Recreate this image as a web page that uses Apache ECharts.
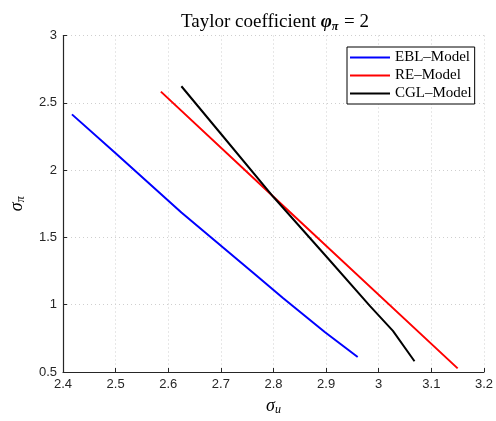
<!DOCTYPE html>
<html>
<head>
<meta charset="utf-8">
<script src="https://cdn.jsdelivr.net/npm/echarts@6/dist/echarts.min.js"></script>
<style>
html,body{margin:0;padding:0;background:#fff;}
#c{width:496px;height:421px;}
</style>
</head>
<body>
<div id="c"></div>
<script>
// Data
const seriesNames = ['EBL\u2013Model', 'RE\u2013Model', 'CGL\u2013Model'];
const eblData = [[2.417,2.414],[2.5,2.125],[2.625,1.685],[2.763,1.232],[2.818,1.05],[2.898,0.795],[2.96,0.612]];
const reData  = [[2.586,2.583],[2.8,1.802],[3.15,0.527]];
const cglData = [[2.625,2.623],[2.70,2.27],[2.80,1.80],[2.90,1.36],[2.984,0.988],[3.027,0.806],[3.068,0.58]];
const xTicks = [2.4, 3.2, 0.1];
const yTicks = [0.5, 3, 0.5];

const serif = 'Liberation Serif';
const sans = 'Liberation Sans';
const axisCol = '#262626';

const chart = echarts.init(document.getElementById('c'), null, {renderer:'canvas'});
chart.setOption({
  animation:false,
  backgroundColor:'#fff',
  title:{
    text:'{a|Taylor coefficient }{b|\u03c6}{c|\u03c0}{a| = 2}',
    left:270, top:7, textAlign:'center',
    textStyle:{
      rich:{
        a:{fontFamily:serif,fontSize:19,color:'#000',fontWeight:'normal'},
        b:{fontFamily:serif,fontSize:19,color:'#000',fontStyle:'italic'},
        c:{fontFamily:serif,fontSize:12,color:'#000',fontStyle:'italic',padding:[9,1,0,0]}
      }
    }
  },
  grid:{left:53,right:8.5,top:35.5,bottom:42.5,containLabel:false},
  legend:{
    orient:'vertical',
    left:347, top:47,
    backgroundColor:'#fff',
    borderColor:'#000', borderWidth:1,
    padding:[3,3,3,3],
    itemGap:3,
    itemWidth:40, itemHeight:2,
    icon:'rect',
    textStyle:{fontFamily:serif,fontSize:15,color:'#000',lineHeight:13},
    data:seriesNames.map(n=>({name:n}))
  },
  xAxis:{
    type:'value', min:xTicks[0], max:xTicks[1], interval:xTicks[2],
    name:'{s|\u03c3}{u|u}', nameLocation:'middle', nameGap:24,
    nameTextStyle:{rich:{
      s:{fontFamily:serif,fontSize:18,fontStyle:'italic',color:'#000'},
      u:{fontFamily:serif,fontSize:12,fontStyle:'italic',color:'#000',padding:[8,0,0,0]}
    }},
    axisLine:{show:true,lineStyle:{color:axisCol,width:1.2}},
    axisTick:{show:true,inside:true,length:4,lineStyle:{color:axisCol}},
    axisLabel:{fontFamily:sans,fontSize:13,color:axisCol,margin:6,
      formatter:v=>String(Math.round(v*10)/10)},
    splitLine:{show:true,lineStyle:{color:'#cfcfcf',type:[1,3],width:1}}
  },
  yAxis:{
    type:'value', min:yTicks[0], max:yTicks[1], interval:yTicks[2],
    name:'{s|\u03c3}{u|\u03c0}', nameLocation:'middle', nameGap:36, nameRotate:90,
    nameTextStyle:{rich:{
      s:{fontFamily:serif,fontSize:18,fontStyle:'italic',color:'#000'},
      u:{fontFamily:serif,fontSize:12,fontStyle:'italic',color:'#000',padding:[8,0,0,0]}
    }},
    axisLine:{show:true,lineStyle:{color:axisCol,width:1.2}},
    axisTick:{show:true,inside:true,length:4,lineStyle:{color:axisCol}},
    axisLabel:{fontFamily:sans,fontSize:13,color:axisCol,margin:6,
      formatter:v=>String(Math.round(v*10)/10)},
    splitLine:{show:true,lineStyle:{color:'#cfcfcf',type:[1,3],width:1}}
  },
  series:[
    {name:seriesNames[0],type:'line',data:eblData,showSymbol:false,symbol:'none',lineStyle:{color:'#0000ff',width:2},itemStyle:{color:'#0000ff'}},
    {name:seriesNames[1],type:'line',data:reData,showSymbol:false,symbol:'none',lineStyle:{color:'#ff0000',width:2},itemStyle:{color:'#ff0000'}},
    {name:seriesNames[2],type:'line',data:cglData,showSymbol:false,symbol:'none',lineStyle:{color:'#000000',width:2},itemStyle:{color:'#000000'}}
  ]
});
</script>
</body>
</html>
